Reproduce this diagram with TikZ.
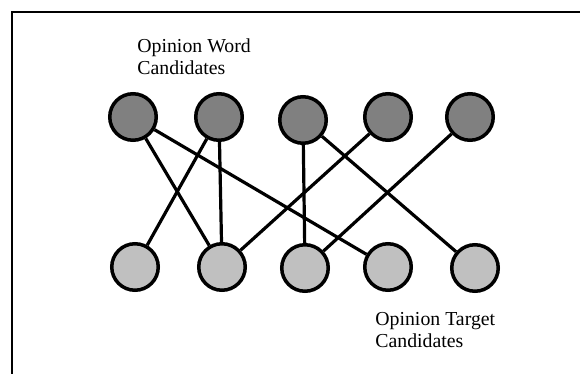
\documentclass[tikz,border=0pt]{standalone}
\usepackage{fontspec}
\setmainfont{Liberation Serif}
\definecolor{wordgray}{HTML}{808080}
\definecolor{targetgray}{HTML}{C0C0C0}

\begin{document}
\begin{tikzpicture}[x=.5pt, y=-.5pt,
  word/.style={circle, draw=black, line width=1.75pt, fill=wordgray, minimum size=23.25pt, inner sep=0pt},
  target/.style={circle, draw=black, line width=1.75pt, fill=targetgray, minimum size=23.25pt, inner sep=0pt},
  link/.style={black, line width=1.6pt},
  label/.style={anchor=base west, align=left, inner sep=0pt, font=\fontsize{9.9}{11}\selectfont}]
\useasboundingbox (0,0) rectangle (580,374);
\draw[line width=.9pt] (580,12) -- (12,12) -- (12,374);
% top row: opinion words
\foreach \i/\x/\y in {1/133/117, 2/219/117, 3/303/120, 4/388/117, 5/470/117}
  \node[word] (w\i) at (\x,\y) {};
% bottom row: opinion targets
\foreach \i/\x/\y in {1/135/267, 2/222/267, 3/305/268, 4/388/267, 5/475/268}
  \node[target] (t\i) at (\x,\y) {};
\foreach \a/\b in {1/2, 1/4, 2/1, 2/2, 3/3, 3/5, 4/2, 5/3}
  \draw[link] (w\a) -- (t\b);
\node[label] (wordlbl) at (137,75) {Opinion Word\\Candidates};
\node[label] (targetlbl) at (375,348) {Opinion Target\\Candidates};
\end{tikzpicture}
\end{document}
